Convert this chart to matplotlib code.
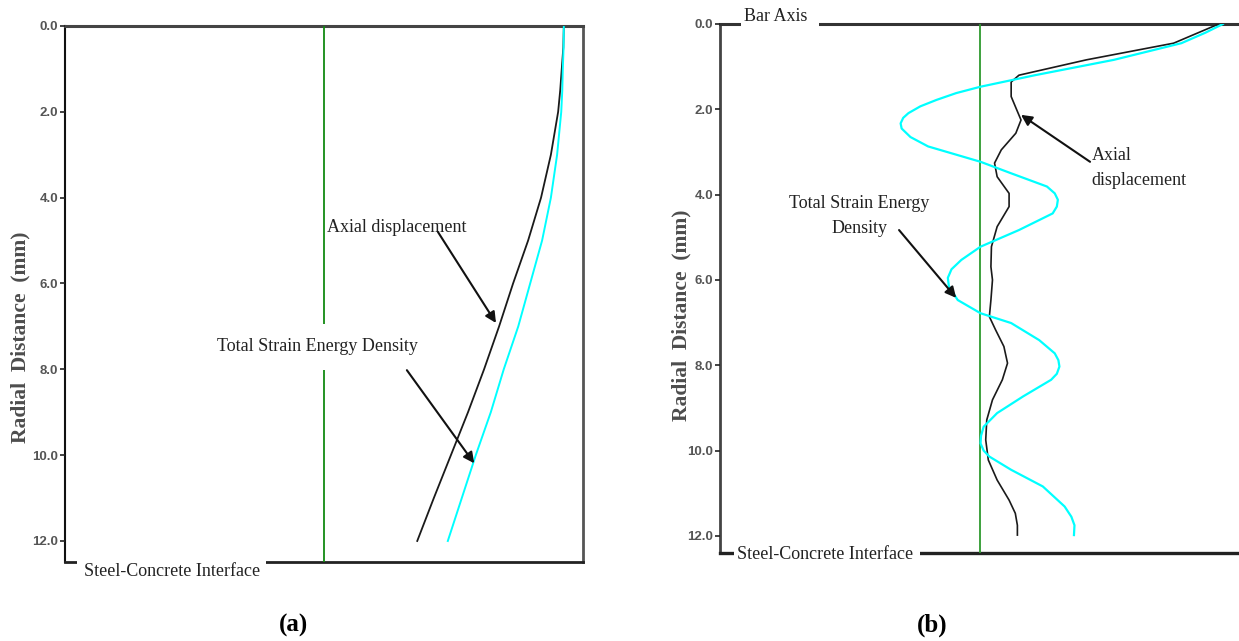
import matplotlib
matplotlib.use("Agg")
from matplotlib import pyplot as plt
import numpy as np

# radial depth (mm) and normalised response for the straight-bar case (a)
depth_a = [0, 0.5, 1, 1.5, 2, 3, 4, 5, 6, 7, 8, 9, 10, 11, 12]
axial_a = [96.3, 96.2, 95.9, 95.6, 95.2, 93.8, 91.9, 89.4, 86.5, 83.8, 80.9, 77.8, 74.5, 71.2, 68.0]
energy_a = [96.3, 96.25, 96.1, 96.0, 95.8, 95.0, 93.8, 92.1, 89.8, 87.5, 84.7, 82.2, 79.3, 76.6, 73.9]

# ribbed-bar case (b)
depth_b_axial = [0, 0.45, 0.84, 1.2, 1.36, 1.70, 2.02, 2.25, 2.56, 2.95, 3.26, 3.58, 3.97, 4.28,
                 4.75, 5.22, 5.69, 6.0, 6.47, 6.86, 7.17, 7.56, 7.95, 8.34, 8.81, 9.28, 9.75,
                 10.22, 10.69, 11.16, 11.47, 11.75, 11.98]
axial_b = [96.1, 87.4, 70.6, 57.6, 56.1, 56.1, 57.2, 58.0, 57.0, 54.2, 52.9, 53.4, 55.7, 55.7,
           53.4, 52.3, 52.2, 52.5, 52.2, 51.9, 53.1, 54.7, 55.4, 54.4, 52.5, 51.4, 51.2,
           51.7, 53.4, 55.7, 56.9, 57.3, 57.3]
depth_b_energy = [0, 0.2, 0.45, 0.84, 1.20, 1.47, 1.62, 1.78, 1.93, 2.09, 2.2, 2.33, 2.45, 2.65,
                  2.87, 3.23, 3.50, 3.81, 3.97, 4.12, 4.28, 4.44, 4.83, 5.22, 5.53, 5.75,
                  5.95, 6.15, 6.47, 6.78, 7.01, 7.41, 7.72, 7.88, 8.03, 8.2, 8.34, 8.73, 9.12,
                  9.44, 9.65, 9.83, 10.0, 10.14, 10.45, 10.84, 11.31, 11.55, 11.75, 11.98]
energy_b = [96.9, 93.6, 88.9, 75.9, 60.7, 50.2, 45.5, 41.7, 38.6, 36.3, 35.3, 34.8, 35.0, 36.7,
            40.1, 50.2, 56.1, 63.0, 64.5, 65.1, 64.9, 64.1, 57.6, 50.2, 46.5, 44.6,
            43.9, 44.1, 45.8, 50.2, 56.1, 61.5, 64.5, 65.2, 65.4, 64.9, 63.8, 58.4, 53.4,
            50.8, 50.3, 50.2, 50.8, 51.9, 56.1, 62.2, 66.4, 67.7, 68.3, 68.2]

interface_x = 50
yticks = [0, 2, 4, 6, 8, 10, 12]

serif = ["Liberation Serif", "DejaVu Serif"]
sans = ["Liberation Sans", "DejaVu Sans"]

fig = plt.figure(figsize=(12.39, 6.41), dpi=100)
ax1 = fig.add_axes([65 / 1239, 1 - 562 / 641, 518 / 1239, 536 / 641])
ax2 = fig.add_axes([720 / 1239, 1 - 553 / 641, 519 / 1239, 529 / 641])


def style_axis(ax, ybottom):
    ax.set_xlim(0, 100)
    ax.set_ylim(ybottom, 0)
    ax.set_xticks([])
    ax.set_yticks(yticks)
    ax.set_yticklabels([f"{t:.1f}" for t in yticks], family=sans, weight="bold",
                       fontsize=9.5, color="#555555")
    ax.tick_params(axis="y", length=3.5, width=1.2, pad=1.5, color="#222222")
    for s in ax.spines.values():
        s.set_zorder(1)


def arrow(ax, start, tip):
    ax.annotate("", xy=tip, xytext=start,
                arrowprops=dict(arrowstyle="-|>", color="#111111", lw=1.5, mutation_scale=16,
                                shrinkA=0, shrinkB=0), zorder=5)


# ---- (a)
style_axis(ax1, 12.49)
ax1.spines["top"].set_linewidth(2.2)
ax1.spines["top"].set_color("#444444")
ax1.spines["right"].set_linewidth(2.0)
ax1.spines["right"].set_color("#555555")
ax1.spines["left"].set_linewidth(1.5)
ax1.spines["left"].set_color("#111111")
ax1.spines["bottom"].set_linewidth(2.0)
ax1.spines["bottom"].set_color("#222222")

ax1.axvline(interface_x, color="#138a13", lw=1.3, zorder=2)
ax1.plot(axial_a, depth_a, color="#1a1a1a", lw=1.3, zorder=3)
ax1.plot(energy_a, depth_a, color="#00ffff", lw=1.4, zorder=3)

ax1.text(64.1, 4.69, "Axial displacement", family=serif, fontsize=13,
         ha="center", va="center", color="#222222", zorder=5)
arrow(ax1, (72.0, 4.80), (83.2, 6.92))
ax1.text(48.8, 7.48, "Total Strain Energy Density", family=serif, fontsize=13,
         ha="center", va="center", color="#222222", zorder=5,
         bbox=dict(boxstyle="square,pad=0.8", fc="white", ec="none"))
arrow(ax1, (66.0, 8.02), (79.0, 10.19))
ax1.text(3.6, 12.72, "Steel-Concrete Interface", family=serif, fontsize=13,
         ha="left", va="center", color="#222222", zorder=5, clip_on=False,
         bbox=dict(boxstyle="square,pad=0.35", fc="white", ec="none"))

# ---- (b)
style_axis(ax2, 12.40)
ax2.spines["right"].set_visible(False)
ax2.spines["top"].set_linewidth(2.2)
ax2.spines["top"].set_color("#333333")
ax2.spines["left"].set_linewidth(2.0)
ax2.spines["left"].set_color("#444444")
ax2.spines["bottom"].set_linewidth(2.4)
ax2.spines["bottom"].set_color("#222222")

ax2.axvline(interface_x, color="#2e9a2e", lw=1.3, zorder=2)
ax2.plot(axial_b, depth_b_axial, color="#1a1a1a", lw=1.2, zorder=3)
ax2.plot(energy_b, depth_b_energy, color="#00ffff", lw=1.6, zorder=3)

ax2.text(71.6, 3.38, "Axial\ndisplacement", family=serif, fontsize=13,
         ha="left", va="center", linespacing=1.6, color="#222222", zorder=5)
arrow(ax2, (71.3, 3.23), (58.0, 2.13))
ax2.text(26.8, 4.5, "Total Strain Energy\nDensity", family=serif, fontsize=13,
         ha="center", va="center", multialignment="center", linespacing=1.6,
         color="#222222", zorder=5)
arrow(ax2, (34.5, 4.83), (45.5, 6.42))
ax2.text(4.6, -0.17, "Bar Axis  ", family=serif, fontsize=13,
         ha="left", va="center", color="#222222", zorder=5, clip_on=False,
         bbox=dict(boxstyle="square,pad=0.15", fc="white", ec="none"))
ax2.text(3.2, 12.44, "Steel-Concrete Interface ", family=serif, fontsize=13,
         ha="left", va="center", color="#222222", zorder=5, clip_on=False,
         bbox=dict(boxstyle="square,pad=0.15", fc="white", ec="none"))

# axis titles and panel letters
for x, y in [(20, 337), (681, 315)]:
    fig.text(x / 1239, 1 - y / 641, "Radial  Distance  (mm)", rotation=90,
             family=serif, weight="bold", fontsize=15.5, color="#4d4d4d",
             ha="center", va="center")
for x, lab in [(293, "(a)"), (932, "(b)")]:
    fig.text(x / 1239, 1 - 625 / 641, lab, family=serif, weight="bold",
             fontsize=18, ha="center", va="center")

fig.savefig("out.png", dpi=100)
